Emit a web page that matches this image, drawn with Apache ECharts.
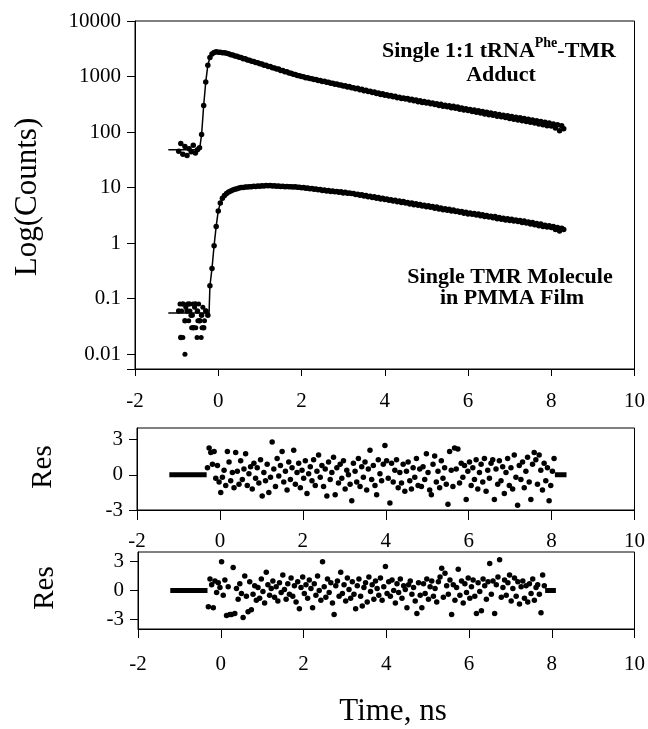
<!DOCTYPE html>
<html>
<head>
<meta charset="utf-8">
<script src="https://cdn.jsdelivr.net/npm/echarts@6/dist/echarts.min.js"></script>
<style>
html, body { margin: 0; padding: 0; background: #fff; }
#chart { width: 648px; height: 729px; }
</style>
</head>
<body>
<div id="chart"></div>
<script>
// ---- data ----
const resTicks = [-3, 0, 3]

// decay curves, one channel every 0.05 ns starting at -0.95 ns
const decayStart = -0.95
const decayStep = 0.05
const adductCounts = [
  45, 62, 40, 55, 38, 50, 44, 58, 42, 48, 52,
  90, 300, 800, 1600, 2200, 2550, 2700, 2780, 2750,
  2740, 2690, 2670,
  2620, 2570, 2470, 2430, 2340, 2310, 2220, 2190, 2100, 2080, 1990, 1970, 1880, 1870, 1780, 1770, 1690, 1680, 1600,
  1590, 1520, 1510, 1440, 1430, 1360, 1360, 1290, 1290, 1220, 1220, 1160, 1150, 1100, 1090, 1040, 1030, 1000,
  990, 955, 950, 920, 915, 885, 880, 850, 850, 815, 820, 785, 790, 755, 760, 725, 735, 700, 705, 675,
  680, 645, 660, 625, 630, 600, 615, 580, 590, 555, 565, 535, 545, 515, 525, 495, 505, 475, 490, 460,
  470, 445, 455, 430, 440, 415, 425, 400, 412, 392,
  400, 378, 390, 365, 378, 352, 365, 342, 355, 335,
  345, 322, 335, 312, 325, 300, 316, 292, 305, 285,
  297, 275, 290, 268, 282, 258, 272, 250, 262, 245,
  255, 235, 250, 228, 242, 220, 235, 212, 228, 205,
  220, 200, 214, 193, 207, 188, 200, 182, 196, 175,
  190, 170, 185, 165, 180, 160, 175, 155, 170, 150,
  165, 145, 160, 140, 155, 136, 150, 130, 146, 128,
  140, 118, 135, 106, 130, 115
]
const moleculeCounts = [
  0.06, 0.02, 0.08, 0.04, 0.06, 0.08, 0.05, 0.03, 0.08, 0.06, 0.04, 0.05, 0.03, 0.06, 0.05,
  0.17, 0.35, 0.9, 2.0, 3.8, 5.3, 6.4, 7.2, 7.8, 8.3, 8.7, 9.0, 9.3, 9.5,
  9.8, 10.0, 10.0, 10.2, 10.2, 10.4, 10.3, 10.6, 10.5, 10.7, 10.6, 10.8, 10.7, 10.9, 10.8,
  10.9, 10.7, 10.8, 10.6, 10.7, 10.5, 10.6, 10.4, 10.5, 10.3, 10.4, 10.2, 10.3, 10.1, 10.1, 9.9,
  10.0, 9.7, 9.8, 9.5, 9.6, 9.3, 9.4, 9.1, 9.2, 8.9, 9.0, 8.7, 8.9, 8.5, 8.7, 8.4, 8.5, 8.2, 8.4, 8.0, 8.2, 7.9, 8.0, 7.8,
  7.85, 7.5, 7.6, 7.3, 7.4, 7.05, 7.2, 6.85, 7.0, 6.65, 6.8, 6.45, 6.6, 6.25, 6.45, 6.1, 6.25, 5.9, 6.05, 5.75,
  5.9, 5.55, 5.75, 5.4, 5.6, 5.25, 5.4, 5.05, 5.25, 4.9, 5.1, 4.8, 4.95, 4.65, 4.8, 4.5, 4.7, 4.4, 4.55, 4.25,
  4.45, 4.1, 4.3, 4.0, 4.15, 3.9, 4.05, 3.8,
  3.95, 3.7, 3.8, 3.6, 3.7, 3.45, 3.6, 3.35, 3.5, 3.3, 3.4, 3.2, 3.35, 3.1, 3.25, 3.0, 3.15, 2.95, 3.05, 2.85,
  3.0, 2.75, 2.9, 2.7, 2.8, 2.6, 2.75, 2.55, 2.7, 2.5, 2.6, 2.45, 2.55, 2.35, 2.5, 2.3, 2.4, 2.2, 2.35, 2.15,
  2.25, 2.05, 2.2, 2.0, 2.1, 1.95, 2.05, 1.9,
  2.0, 1.75, 1.9, 1.65, 1.85, 1.75
]
// extra low-count baseline points of the single molecule
const moleculeExtraT = [-0.92, -0.88, -0.85, -0.80, -0.78, -0.74, -0.71, -0.68, -0.64, -0.61, -0.57, -0.54, -0.51, -0.47, -0.44, -0.41, -0.37, -0.33, -0.29, -0.62, -0.49, -0.39]
const moleculeExtraV = [0.08, 0.06, 0.02, 0.01, 0.07, 0.08, 0.04, 0.06, 0.03, 0.08, 0.07, 0.03, 0.02, 0.08, 0.04, 0.02, 0.07, 0.04, 0.06, 0.05, 0.04, 0.03]

// fitted curves
const adductFitT = [-1.2, -0.45, -0.4, -0.35, -0.3, -0.25, -0.2, -0.15, -0.1, -0.05, 0, 0.2, 1, 2, 3, 4, 5, 6, 7, 8, 8.35]
const adductFitV = [48, 48, 90, 300, 800, 1600, 2200, 2550, 2700, 2760, 2750, 2620, 1708, 1000, 683, 466, 341, 249, 182, 134, 120]
const moleculeFitT = [-1.2, -0.22, -0.2, -0.15, -0.1, -0.05, 0, 0.05, 0.1, 0.2, 0.3, 0.5, 0.8, 1.2, 2, 3.2, 5.6, 8, 8.35]
const moleculeFitV = [0.055, 0.055, 0.17, 0.35, 0.9, 2.0, 3.8, 5.3, 6.4, 7.8, 8.7, 9.8, 10.4, 10.8, 10.0, 7.85, 3.88, 1.96, 1.76]

// weighted residuals, one point every 0.04 ns starting at -0.30 ns
const resStart = -0.3
const resStep = 0.04
const res1 = [
  0.6, 2.3, 1.9, 0.9, 2.0, -0.3, 0.8, -0.6, -1.5, -0.2,
  0.4, -0.9, 2.0, 1.1, -0.5, 0.2, -1.1, 1.9, 0.3, -0.8,
  1.2, -0.4, 0.5, 1.8, -0.9, 0.1, 0.7, -1.2, 1.0, -0.3,
  0.6, -0.7, 1.3, -1.8, 0.2, -0.5, 0.9, -1.5, -0.2, 2.8,
  0.5, -1.0, 1.4, -0.1, 0.8, 2.0, -0.6, 0.3, -1.3, 1.1,
  -0.4, 0.6, 2.1, -0.8, 0.2, 1.0, -1.1, 0.4, -0.3, 1.2,
  -1.6, 0.1, 0.7, -0.5, 1.3, -0.9, 0.3, 1.7, -0.2, 0.8,
  -1.0, 0.5, -1.8, 1.1, -0.4, 0.2, 1.5, -1.7, 0.6, -0.7,
  0.9, -0.3, 1.2, -1.2, 0.4, 0.0, -0.8, -2.2, 1.0, 0.3,
  -0.6, 1.4, -1.0, 0.7, -0.2, 1.1, -1.3, 0.5, 2.1, -0.4,
  0.8, -0.9, -1.7, 1.3, 0.1, -0.5, 0.9, 2.5, 1.2, -0.3,
  -2.4, 1.0, -0.6, 0.4, 1.3, -1.1, 0.2, -0.7, 0.9, -1.4,
  0.3, 1.1, -0.5, -1.2, 0.6, -0.2, 1.4, -0.9, 0.5, -1.0,
  0.7, -0.4, 1.8, 0.2, -1.3, -1.7, 0.9, 1.6, -0.6, 0.3,
  -1.1, 1.2, -0.3, 0.6, -0.8, -2.5, 2.0, 0.4, -1.0, 2.3,
  0.5, 2.2, -0.7, 1.0, -0.2, 0.8, -2.1, 0.3, 1.1, -0.9,
  0.6, -0.4, 1.3, -1.2, 0.2, 0.9, -0.6, 1.4, -1.4, 0.4,
  -0.3, 1.0, 1.3, -2.1, 0.5, -0.8, 1.2, -0.5, 0.7, -1.6,
  0.2, 1.4, -0.9, 0.6, -1.2, 1.7, -0.2, -2.6, 0.8, -0.4,
  1.1, -1.1, 0.3, 1.5, -0.6, -2.1, 0.9, 1.9, 1.3, -0.8,
  1.7, 0.4, -1.3, 1.0, -0.5, 0.6, -2.2, -0.9, 0.3, 1.4
]
const res2 = [
  -1.7, 1.2, 0.6, -1.8, 1.0, -0.2, 0.8, 0.3, 3.0, -0.5,
  1.1, -2.6, 0.4, -2.5, -2.5, 2.4, -2.4, 0.2, -0.9, 0.7,
  -0.3, -2.8, 1.5, -0.6, -2.2, 0.9, -2.0, -0.4, 0.5, -1.0,
  0.3, -0.8, 1.2, -0.1, -1.3, 1.9, 0.6, -0.5, 0.2, 1.0,
  -0.7, 0.4, -1.1, 0.8, -0.2, 1.6, 0.1, -0.9, 0.7, -0.4,
  1.3, -0.6, 0.5, -1.2, 0.9, -1.9, 0.3, 1.4, -0.3, 0.6,
  -0.8, 1.1, 0.2, -1.8, 0.7, -0.5, 1.5, 0.0, -1.0, 3.0,
  0.4, -0.7, 1.2, -0.2, 0.8, -1.3, -2.5, 0.5, 1.0, -0.6,
  1.9, -0.3, 0.6, -1.1, 1.3, 0.1, -0.8, 0.9, -0.4, -1.9,
  0.5, 1.2, -0.6, -1.6, 0.3, 0.8, -1.2, 1.4, -0.1, 0.6,
  -0.9, 1.0, 0.2, -0.5, 1.3, -1.0, 0.4, 2.5, -0.3, 0.9,
  -0.6, 1.1, 0.0, -1.3, 0.7, -0.2, 1.2, -0.8, 0.5, 0.1,
  -1.8, 0.6, 1.0, -0.4, 0.3, -1.1, -2.4, 0.8, -0.5, -1.8,
  0.7, -0.3, 1.2, -0.9, 0.4, 1.0, -0.6, 0.2, -1.2, 0.9,
  1.4, 2.3, -0.7, 1.8, 0.5, -0.4, 1.1, -2.5, 0.6, -1.0,
  0.3, 2.2, -0.5, 1.0, -1.3, 0.7, -0.2, 1.3, -0.8, 0.4,
  1.1, -0.6, -2.4, 0.8, -0.1, -2.1, 1.2, 0.5, -0.9, 0.9,
  2.8, -0.4, 1.0, -2.4, 0.6, 1.4, 3.2, -0.7, 0.3, 1.1,
  -0.5, 0.8, 1.6, -1.1, 0.2, 1.3, -0.6, 0.9, -1.4, 0.4,
  1.0, -0.8, 0.5, -1.2, 0.7, -0.3, 1.2, -1.0, 0.3, 0.6,
  -0.4, -2.3, 1.6, 0.5
]
// time spans where the residual is exactly zero (outside the fit range)
const res1Zero = [[-1.22, -0.32], [8.08, 8.36]]
const res2Zero = [[-1.22, -0.32], [7.84, 8.1]]

// ---- build series data ----
const channels = (start, step, values) =>
  values.map((v, i) => [+(start + i * step).toFixed(3), v])
const pairs = (xs, ys) => xs.map((x, i) => [x, ys[i]])
const zeroSpans = (spans) => {
  const out = []
  spans.forEach((s, i) => {
    if (i > 0) out.push([s[0], null])
    out.push([s[0], 0], [s[1], 0])
  })
  return out
}

const chart = echarts.init(document.getElementById('chart'))
const serif = 'Liberation Serif'
const black = '#000'

const xAxisBase = (gridIndex, margin, tickLen) => ({
  type: 'value',
  gridIndex,
  min: -2,
  max: 10,
  interval: 2,
  axisLine: { show: true, onZero: false, lineStyle: { color: black, width: 1 } },
  axisTick: { show: true, length: tickLen, lineStyle: { color: black } },
  axisLabel: { color: black, fontFamily: serif, fontSize: 21, margin },
  splitLine: { show: false }
})
const resY = (gridIndex, min) => ({
  type: 'value',
  gridIndex,
  min,
  max: 4,
  axisLine: { show: true, onZero: false, lineStyle: { color: black } },
  axisTick: { show: true, length: 8, customValues: resTicks, lineStyle: { color: black } },
  axisLabel: { color: black, fontFamily: serif, fontSize: 21, margin: 14, customValues: resTicks },
  splitLine: { show: false }
})
const dots = (x, y, data, size) => ({
  type: 'scatter',
  xAxisIndex: x,
  yAxisIndex: y,
  data,
  symbol: 'circle',
  symbolSize: size,
  itemStyle: { color: black, opacity: 1 },
  silent: true
})
const line = (x, y, data, width) => ({
  type: 'line',
  xAxisIndex: x,
  yAxisIndex: y,
  data,
  showSymbol: false,
  connectNulls: false,
  lineStyle: { color: black, width },
  silent: true
})

const option = {
  backgroundColor: '#fff',
  animation: false,
  grid: [
    { left: 135, right: 12, top: 21, height: 348, show: true, borderColor: black, borderWidth: 1 },
    { left: 137, right: 13, top: 428, height: 82, show: true, borderColor: black, borderWidth: 1 },
    { left: 138, right: 11, top: 552, height: 77, show: true, borderColor: black, borderWidth: 1 }
  ],
  xAxis: [
    xAxisBase(0, 22, 7),
    xAxisBase(1, 21, 10),
    xAxisBase(2, 25, 9)
  ],
  yAxis: [
    {
      type: 'log',
      logBase: 10,
      gridIndex: 0,
      min: 0.0054,
      max: 10000,
      axisLine: { show: true, onZero: false, lineStyle: { color: black } },
      axisTick: { show: true, length: 8, lineStyle: { color: black } },
      axisLabel: {
        color: black, fontFamily: serif, fontSize: 21, margin: 14,
        formatter: (v) => {
          const p = Math.log10(v)
          return Math.abs(p - Math.round(p)) < 1e-6 ? String(+v.toPrecision(1)) : ''
        }
      },
      splitLine: { show: false },
      minorTick: { show: false }
    },
    resY(1, -3),
    resY(2, -4)
  ],
  series: [
    line(0, 0, pairs(adductFitT, adductFitV), 1.5),
    line(0, 0, pairs(moleculeFitT, moleculeFitV), 1.5),
    dots(0, 0, channels(decayStart, decayStep, adductCounts), 5.5),
    dots(0, 0, channels(decayStart, decayStep, moleculeCounts), 5.5),
    dots(0, 0, pairs(moleculeExtraT, moleculeExtraV), 5),
    line(1, 1, zeroSpans(res1Zero), 5),
    dots(1, 1, channels(resStart, resStep, res1), 5.5),
    line(2, 2, zeroSpans(res2Zero), 5),
    dots(2, 2, channels(resStart, resStep, res2), 5.5)
  ],
  graphic: [
    { type: 'text', x: 28, y: 197, rotation: Math.PI / 2,
      style: { text: 'Log(Counts)', fontFamily: serif, fontSize: 31, fill: black, textAlign: 'center', textVerticalAlign: 'middle' } },
    { type: 'text', x: 43, y: 467, rotation: Math.PI / 2,
      style: { text: 'Res', fontFamily: serif, fontSize: 29, fill: black, textAlign: 'center', textVerticalAlign: 'middle' } },
    { type: 'text', x: 45, y: 588, rotation: Math.PI / 2,
      style: { text: 'Res', fontFamily: serif, fontSize: 29, fill: black, textAlign: 'center', textVerticalAlign: 'middle' } },
    { type: 'text', x: 393, y: 712,
      style: { text: 'Time, ns', fontFamily: serif, fontSize: 31, fill: black, textAlign: 'center', textVerticalAlign: 'middle' } },
    { type: 'text', x: 499, y: 51,
      style: {
        text: '{a|Single 1:1 tRNA}{s|Phe}{a|-TMR}',
        textAlign: 'center', textVerticalAlign: 'middle',
        rich: {
          a: { fontFamily: serif, fontSize: 22, fontWeight: 'bold', fill: black, color: black, lineHeight: 30 },
          s: { fontFamily: serif, fontSize: 14, fontWeight: 'bold', fill: black, color: black, verticalAlign: 'top', lineHeight: 14 }
        }
      } },
    { type: 'text', x: 501, y: 75,
      style: { text: 'Adduct', fontFamily: serif, fontSize: 22, fontWeight: 'bold', fill: black, textAlign: 'center', textVerticalAlign: 'middle' } },
    { type: 'text', x: 510, y: 277,
      style: { text: 'Single TMR Molecule', fontFamily: serif, fontSize: 22, fontWeight: 'bold', fill: black, textAlign: 'center', textVerticalAlign: 'middle' } },
    { type: 'text', x: 512, y: 298,
      style: { text: 'in PMMA Film', fontFamily: serif, fontSize: 22, fontWeight: 'bold', fill: black, textAlign: 'center', textVerticalAlign: 'middle' } }
  ]
}
chart.setOption(option)
</script>
</body>
</html>
